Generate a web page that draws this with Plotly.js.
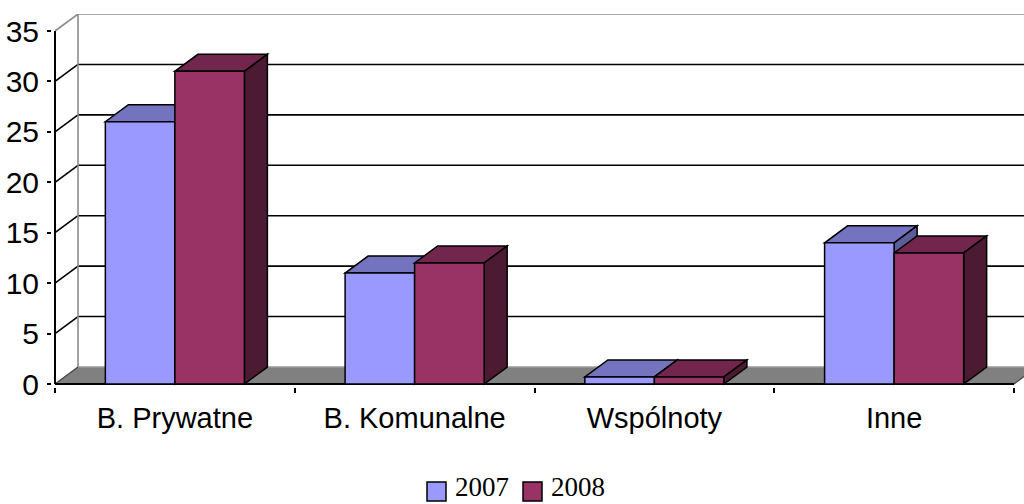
<!DOCTYPE html>
<html>
<head>
<meta charset="utf-8">
<script src="https://cdn.plot.ly/plotly-3.0.1.min.js"></script>
<style>
html,body{margin:0;padding:0;background:#fff;}
#chart{width:1024px;height:504px;}
</style>
</head>
<body>
<div id="chart"></div>
<script>
// ---- data ----
const categories = ['B. Prywatne', 'B. Komunalne', 'Wspólnoty', 'Inne'];
const seriesNames = ['2007', '2008'];
const values2007 = [26, 11, 0.7, 14];
const values2008 = [31, 12, 0.7, 13];
const yTickValues = [0, 5, 10, 15, 20, 25, 30, 35];

// ---- style ----
const frontColors = ['#9999FF', '#993366'];
const topColors = ['#7373BF', '#73264D'];
const sideColors = ['#5C5C99', '#4D1A33'];

// geometry (axis units)
const sx = 239.75;          // px per category
const sy = 10.086;          // px per value unit
const DX = 23 / sx;         // depth offset in x units
const DY = 17 / sy;         // depth offset in y units
const xMin = -0.5 - 3 / sx, xMax = 3.5 + 10 / sx;
const yMin = -3 / sy, yMax = 35 + DY;
const bargap = 0.42;
const bw = (1 - bargap) / 2;
const yTop = yTickValues[yTickValues.length - 1];

const xIdx = categories.map((c, i) => i);

const traces = [values2007, values2008].map((vals, s) => ({
  type: 'bar',
  name: seriesNames[s],
  x: xIdx,
  y: vals,
  marker: {color: frontColors[s], line: {color: '#000', width: 1.5}},
  hoverinfo: 'skip',
  showlegend: false
}));

const shapes = [];
function line(x0, y0, x1, y1, color, width) {
  shapes.push({type: 'line', xref: 'x', yref: 'y', layer: 'below',
    x0: x0, y0: y0, x1: x1, y1: y1, line: {color: color, width: width}});
}
function poly(pts, fill, lineColor, lw) {
  const d = 'M' + pts.map(p => p[0] + ',' + p[1]).join(' L') + ' Z';
  shapes.push({type: 'path', xref: 'x', yref: 'y', layer: 'below', path: d,
    fillcolor: fill, line: {color: lineColor, width: lw}});
}

// back wall gridlines + side wall diagonals
const xf = -0.5, xb = -0.5 + DX;
yTickValues.forEach(v => {
  if (v === 0) return;
  const c = (v === yTop) ? '#8c8c8c' : '#000';
  line(xb, v + DY, xMax + 1, v + DY, c, 1.6);
  line(xf, v, xb, v + DY, c, 1.6);
});
// back-left vertical edge
line(xb, DY, xb, yTop + DY, '#8c8c8c', 1.6);

// floor
poly([[xf, 0], [3.5, 0], [3.5 + DX, DY], [xb, DY]], '#808080', 'rgba(0,0,0,0)', 0);
line(xb, DY, xMax + 1, DY, '#9a9a9a', 1.6);
line(xf, 0, xb, DY, '#404040', 1.2);
line(3.5, 0, 3.5 + DX, DY, '#404040', 1.2);

// front y axis line and floor front edge
line(xf, 0, xf, yTop, '#000', 2);
line(xf, 0, 3.5, 0, '#000', 2);

// 3D top and side faces
xIdx.forEach(i => {
  [values2007, values2008].forEach((vals, s) => {
    const v = vals[i];
    const x0 = i - bw + s * bw, x1 = x0 + bw;
    poly([[x0, v], [x1, v], [x1 + DX, v + DY], [x0 + DX, v + DY]], topColors[s], '#000', 1.5);
    poly([[x1, 0], [x1, v], [x1 + DX, v + DY], [x1 + DX, DY]], sideColors[s], '#000', 1.5);
  });
});

// legend (paper coordinates)
const plotL = 52, plotR = 1024, plotT = 14, plotB = 387;
const pw = plotR - plotL, ph = plotB - plotT;
const px2paperX = px => (px - plotL) / pw;
const px2paperY = py => (plotB - py) / ph;
const legendItems = [{sq: 427, tx: 454}, {sq: 523, tx: 550}];
const annotations = [];
legendItems.forEach((it, s) => {
  shapes.push({type: 'rect', xref: 'paper', yref: 'paper',
    x0: px2paperX(it.sq), x1: px2paperX(it.sq + 19),
    y0: px2paperY(501), y1: px2paperY(482),
    fillcolor: frontColors[s], line: {color: '#000', width: 1.5}});
  annotations.push({xref: 'paper', yref: 'paper', x: px2paperX(it.tx), y: px2paperY(503),
    xanchor: 'left', yanchor: 'bottom', showarrow: false, text: seriesNames[s],
    font: {family: 'Liberation Serif, Times New Roman, serif', size: 27, color: '#000'},
    borderpad: 0});
});

const layout = {
  width: 1024, height: 504,
  margin: {l: plotL, r: 1024 - plotR, t: plotT, b: 504 - plotB, pad: 0},
  paper_bgcolor: '#fff', plot_bgcolor: '#fff',
  barmode: 'group', bargap: bargap, bargroupgap: 0,
  font: {family: 'Liberation Sans, Arial, sans-serif', color: '#000'},
  xaxis: {
    range: [xMin, xMax], showgrid: false, zeroline: false, showline: false,
    tickmode: 'array', tickvals: xIdx, ticktext: categories,
    ticks: '', tickfont: {size: 29}, ticklabelstandoff: 11,
    minor: {tickmode: 'array', tickvals: [-0.5, 0.5, 1.5, 2.5, 3.5], ticks: 'outside',
      ticklen: 5, tickcolor: '#000', tickwidth: 2, showgrid: false},
    fixedrange: true
  },
  yaxis: {
    range: [yMin, yMax], showgrid: false, zeroline: false, showline: false,
    tickmode: 'array', tickvals: yTickValues,
    ticks: 'outside', ticklen: 4, tickwidth: 2, tickcolor: '#000',
    tickfont: {size: 30}, ticklabelstandoff: 2,
    fixedrange: true
  },
  shapes: shapes,
  annotations: annotations,
  showlegend: false
};

Plotly.newPlot('chart', traces, layout, {displayModeBar: false, staticPlot: true});
</script>
</body>
</html>
